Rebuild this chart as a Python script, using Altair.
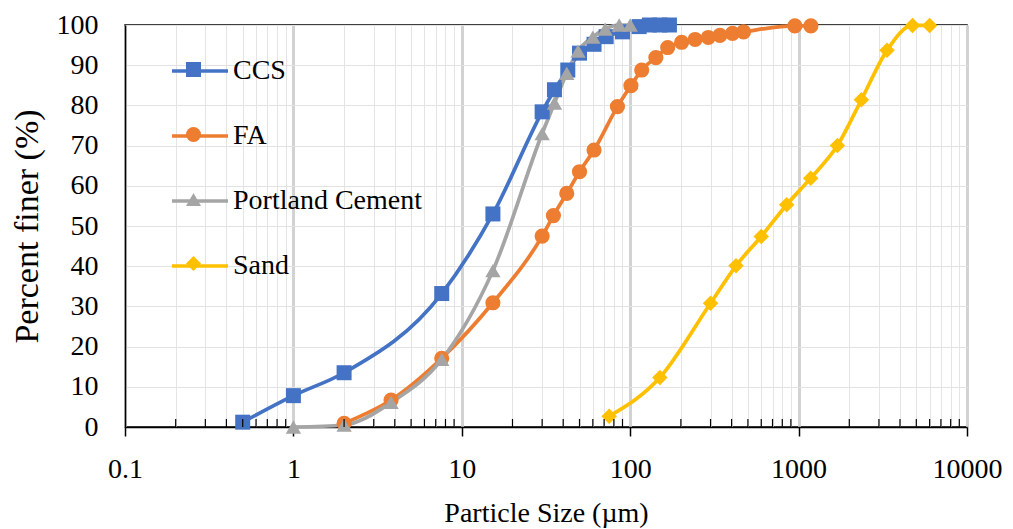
import altair as alt
import pandas as pd

# ---- data ----
series_names = ["CCS", "FA", "Portland Cement", "Sand"]
series_colors = ["#4472C4", "#ED7D31", "#A5A5A5", "#FFC000"]
series_shapes = ["square", "circle", "triangle-up", "diamond"]
marker_areas = [225, 240, 330, 250]

ccs_size = [0.5, 1, 2, 7.6, 15.3, 30, 35.5, 42.6, 50, 61, 72, 90, 113, 130, 150, 171]
ccs_pct = [1.2, 7.8, 13.5, 33.2, 53.0, 78.4, 83.9, 88.8, 93.0, 95.2, 97.1, 98.3, 99.6, 100, 100, 100]

fa_size = [2, 3.8, 7.6, 15.3, 30, 35, 42, 50, 61, 84, 101, 117, 142, 167, 202, 243,
           291, 341, 405, 471, 950, 1183]
fa_pct = [0.9, 6.7, 17.1, 30.9, 47.5, 52.6, 58.1, 63.5, 68.9, 79.7, 84.9, 88.8, 91.9,
          94.4, 95.7, 96.4, 96.9, 97.4, 97.9, 98.3, 99.8, 99.8]

pc_size = [1, 2, 3.8, 7.6, 15.3, 30, 35.5, 42, 49, 60, 71, 86, 100]
pc_pct = [0, 0.5, 6.1, 16.8, 38.9, 73.0, 80.6, 88.0, 93.5, 97.0, 99.0, 100, 100]

sand_size = [75, 150, 300, 425, 600, 850, 1180, 1700, 2360, 3350, 4750, 6000]
sand_pct = [2.7, 12.3, 30.8, 40.1, 47.4, 55.3, 61.9, 70.0, 81.4, 93.7, 99.9, 99.9]

decades = [0.1, 1, 10, 100, 1000, 10000]
x_tick_values = sorted({round(m * d, 6) for d in decades[:-1] for m in range(1, 10)} | {10000})
minor_ticks = [v for v in x_tick_values if v not in decades]
y_tick_values = list(range(0, 101, 10))

rows = []
for name, xs, ys in zip(series_names, [ccs_size, fa_size, pc_size, sand_size],
                        [ccs_pct, fa_pct, pc_pct, sand_pct]):
    for xv, yv in zip(xs, ys):
        rows.append({"Series": name, "Series2": name, "Series3": name, "size": xv, "pct": yv})
df = pd.DataFrame(rows)
minor_df = pd.DataFrame({"size": minor_ticks})

FONT = "Liberation Serif"
is_major = "indexof([0.1, 1, 10, 100, 1000, 10000], datum.value) >= 0"

xscale = alt.Scale(type="log", domain=[0.1, 10000], nice=False)
yscale = alt.Scale(domain=[0, 100], nice=False)

x_axis = alt.Axis(
    values=x_tick_values,
    format="~g",
    labelExpr=f"{is_major} ? datum.label : ''",
    labelOverlap=False,
    labelFlush=False,
    labelFont=FONT,
    labelFontSize=28,
    labelColor="black",
    labelPadding=19,
    tickSize=9,
    tickColor="black",
    tickWidth=1.5,
    tickOpacity={"condition": {"test": is_major, "value": 1}, "value": 0},
    grid=True,
    gridColor={"condition": {"test": is_major, "value": "#d2d2d2"}, "value": "#e4e4e4"},
    gridWidth={"condition": {"test": is_major, "value": 3}, "value": 1},
    domainColor="black",
    domainWidth=1.5,
    title="Particle Size (\u00b5m)",
    titleFont=FONT,
    titleFontSize=28,
    titleFontWeight="normal",
    titleColor="black",
    titlePadding=16,
)

y_axis = alt.Axis(
    values=y_tick_values,
    ticks=False,
    labelFont=FONT,
    labelFontSize=28,
    labelColor="black",
    labelPadding=27,
    grid=True,
    gridColor="#e2e2e2",
    gridWidth=1,
    domainColor="black",
    domainWidth=1.5,
    title="Percent finer (%)",
    titleFont=FONT,
    titleFontSize=34,
    titleFontWeight="normal",
    titleColor="black",
    titlePadding=12,
)

X = alt.X("size:Q", scale=xscale, axis=x_axis)
Y = alt.Y("pct:Q", scale=yscale, axis=y_axis)

lines = alt.Chart(df).mark_line(strokeWidth=3.7, interpolate="monotone").encode(
    x=X,
    y=Y,
    color=alt.Color(
        "Series:N",
        sort=series_names,
        scale=alt.Scale(range=series_colors),
        legend=alt.Legend(
            orient="none", legendX=45, legendY=16, title=None,
            symbolType="stroke", symbolSize=3136, symbolStrokeWidth=3.7,
            labelFont=FONT, labelFontSize=28, labelColor="black",
            labelOffset=3, rowPadding=21, padding=0, labelLimit=500,
        ),
    ),
    detail="Series:N",
)

pt_legend = alt.Legend(
    orient="none", legendX=61, legendY=37, title=None,
    symbolSize=225, symbolStrokeWidth=0,
    labelExpr="''", labelFontSize=1,
    labelOffset=0, rowPadding=50, padding=0,
)

points = alt.Chart(df).mark_point(filled=True, opacity=1, strokeWidth=0).encode(
    x=X,
    y=Y,
    fill=alt.Fill("Series2:N",
                  scale=alt.Scale(domain=series_names, range=series_colors), legend=pt_legend),
    shape=alt.Shape("Series2:N",
                    scale=alt.Scale(domain=series_names, range=series_shapes), legend=pt_legend),
    size=alt.Size("Series3:O", sort=series_names,
                  scale=alt.Scale(range=marker_areas), legend=None),
)

minor_rules = alt.Chart(minor_df).mark_rule(color="black", strokeWidth=1.2).encode(
    x=X,
    y=alt.datum(0, scale=yscale, axis=y_axis),
    y2=alt.datum(2),
)

chart = alt.layer(lines, points, minor_rules).properties(
    width=842,
    height=402,
    autosize=alt.AutoSizeParams(type="none"),
    padding={"left": 125, "top": 25, "right": 46, "bottom": 102},
    background="white",
).configure_view(
    stroke="black", strokeWidth=1.5
)

chart.save("out.html", embed_options={"renderer": "svg", "actions": False})
